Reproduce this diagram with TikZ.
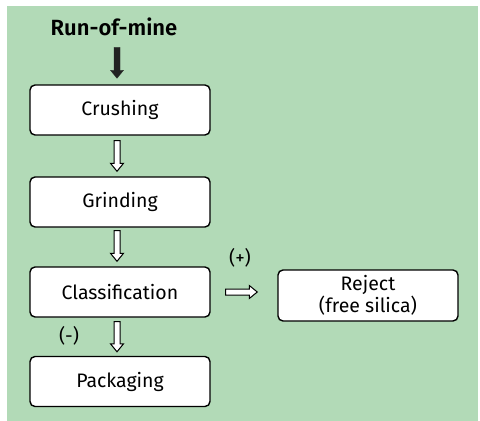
\documentclass[tikz,border=0pt]{standalone}
\usepackage{fontspec}
\setmainfont{Fira Sans}[BoldFont=Fira Sans SemiBold]
\usetikzlibrary{calc}
\definecolor{bggreen}{RGB}{178,218,183}
\definecolor{arrowdark}{RGB}{34,34,34}
\tikzset{
  box/.style={draw=black, line width=1.4pt, rounded corners=5pt, fill=white,
    minimum width=180pt, minimum height=50pt, inner sep=0pt, align=center,
    font=\fontsize{19.5}{21.5}\selectfont},
  lbl/.style={font=\fontsize{19}{21}\selectfont, inner sep=0pt},
  hollow/.style={draw=black, line width=1pt, fill=white},
  solidarr/.style={draw=arrowdark, fill=arrowdark, line width=0.3pt},
}
% vertical arrow from #1 down to #2 (coordinates), style #3
\newcommand\vflowarrow[3]{%
  \path let \p1=(#1), \p2=(#2) in
    coordinate (va1) at (\x1-3pt,\y1) coordinate (va2) at (\x1+3pt,\y1)
    coordinate (va3) at (\x1+3pt,\y2+8pt) coordinate (va4) at (\x1+6.5pt,\y2+8pt)
    coordinate (va5) at (\x1,\y2) coordinate (va6) at (\x1-6.5pt,\y2+8pt)
    coordinate (va7) at (\x1-3pt,\y2+8pt);
  \draw[#3] (va1) -- (va2) -- (va3) -- (va4) -- (va5) -- (va6) -- (va7) -- cycle;}
\newcommand\hflowarrow[3]{%
  \path let \p1=(#1), \p2=(#2) in
    coordinate (ha1) at (\x1,\y1+3pt) coordinate (ha2) at (\x1,\y1-3pt)
    coordinate (ha3) at (\x2-8pt,\y1-3pt) coordinate (ha4) at (\x2-8pt,\y1-6.5pt)
    coordinate (ha5) at (\x2,\y1) coordinate (ha6) at (\x2-8pt,\y1+6.5pt)
    coordinate (ha7) at (\x2-8pt,\y1+3pt);
  \draw[#3] (ha1) -- (ha2) -- (ha3) -- (ha4) -- (ha5) -- (ha6) -- (ha7) -- cycle;}
\begin{document}
\begin{tikzpicture}[x=1pt,y=1pt]
  \useasboundingbox (0,0) rectangle (480,-421);
  \fill[bggreen] (7,-6) rectangle (478,-421);
  \node[lbl, font=\fontsize{22}{24}\selectfont\bfseries] (rom) at (114,-27) {Run-of-mine};
  \node[box] (crush) at (120,-110) {Crushing};
  \node[box] (grind) at (120,-202) {Grinding};
  \node[box] (class) at (120,-292) {Classification};
  \node[box] (pack) at (120,-381.5) {Packaging};
  \node[box, minimum height=51pt] (reject) at (368,-295.5) {Reject\\(free silica)};
  \node[lbl] (plus) at (240,-258) {(+)};
  \node[lbl] (minus) at (69,-336) {(-)};
  % connector end points
  \coordinate (r0) at ($(crush.north)+(-3,37)$);
  \coordinate (r1) at ($(crush.north)+(-3,6)$);
  \coordinate (c0) at ($(crush.south)+(-3,-5)$);
  \coordinate (c1) at ($(grind.north)+(-3,5)$);
  \coordinate (g0) at ($(grind.south)+(-3,-3)$);
  \coordinate (g1) at ($(class.north)+(-3,5)$);
  \coordinate (k0) at ($(class.south)+(-3,-4)$);
  \coordinate (k1) at ($(pack.north)+(-3,4)$);
  \coordinate (h0) at ($(class.east)+(15,0)$);
  \coordinate (h1) at ($(reject.west)+(-20,-4)$);
  \vflowarrow{r0}{r1}{solidarr}
  \vflowarrow{c0}{c1}{hollow}
  \vflowarrow{g0}{g1}{hollow}
  \vflowarrow{k0}{k1}{hollow}
  \hflowarrow{h0}{h1}{hollow}
\end{tikzpicture}
\end{document}
